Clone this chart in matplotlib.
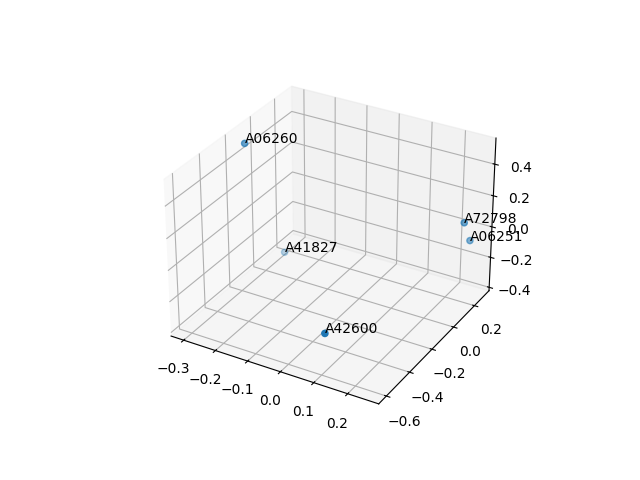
import matplotlib
matplotlib.use("Agg")
import matplotlib.pyplot as plt

labels = ["A06260", "A41827", "A42600", "A72798", "A06251"]
xs = [-0.30, -0.28, 0.11, 0.25, 0.245]
ys = [-0.15, 0.11, -0.60, 0.20, 0.28]
zs = [0.50, -0.36, -0.15, 0.095, -0.075]

fig = plt.figure(figsize=(6.4, 4.8), dpi=100)
ax = fig.add_subplot(projection="3d")
ax.scatter(xs, ys, zs)
for x, y, z, lab in zip(xs, ys, zs, labels):
    ax.text(x, y, z, lab)

fig.savefig("out.png")
